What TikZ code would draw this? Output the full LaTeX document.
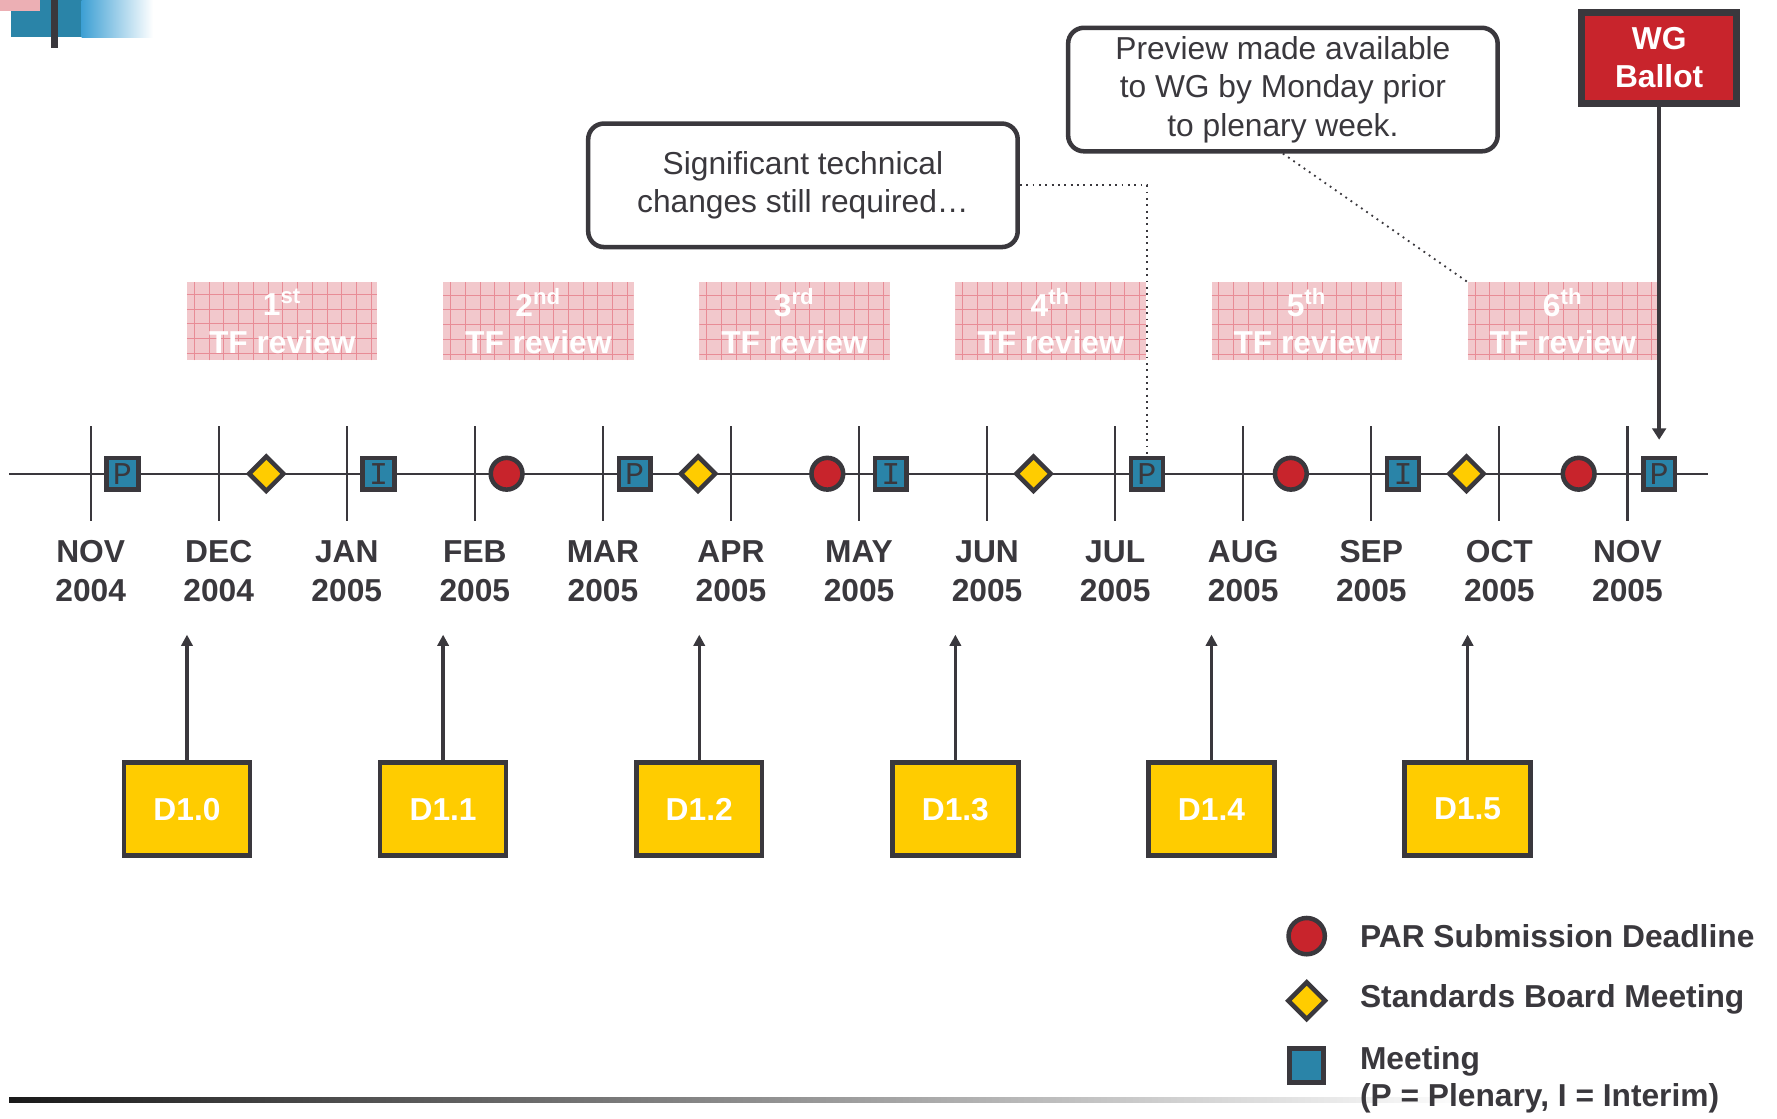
\documentclass[tikz,border=0pt]{standalone}
\usepackage{fontspec}
\setmainfont{Liberation Sans}
\newfontfamily\markfont{Liberation Mono}
\usetikzlibrary{shapes.geometric,arrows.meta}
\definecolor{ink}{RGB}{58,56,61}
\definecolor{meetblue}{RGB}{42,132,168}
\definecolor{fadeblue}{RGB}{62,160,212}
\definecolor{parred}{RGB}{200,36,44}
\definecolor{sbyellow}{RGB}{255,204,0}
\definecolor{tfpink}{RGB}{242,200,204}
\definecolor{tfgrid}{RGB}{232,140,150}
\begin{document}
\begin{tikzpicture}[x=0.5pt,y=-0.5pt,
    every node/.style={text=ink},
    month/.style={align=center,font=\fontsize{14}{17}\selectfont\bfseries},
    meet/.style={draw=ink,line width=2pt,fill=meetblue,minimum size=14pt,inner sep=0pt,
        font=\fontsize{14}{14}\selectfont\markfont},
    board/.style={diamond,draw=ink,line width=2pt,fill=sbyellow,minimum size=16pt,inner sep=0pt},
    par/.style={circle,draw=ink,line width=2pt,fill=parred,minimum size=14pt,inner sep=0pt},
    tfbox/.style={fill=tfpink,minimum width=84pt,minimum height=34.5pt,inner sep=0pt,
        align=center,text=white,font=\fontsize{14}{16.5}\selectfont\bfseries,
        path picture={\draw[tfgrid,line width=0.25pt,step=6.5pt]
            (path picture bounding box.south west) grid (path picture bounding box.north east);}},
    dbox/.style={draw=ink,line width=2pt,fill=sbyellow,minimum width=55.5pt,minimum height=41pt,
        text=white,font=\fontsize{14}{17}\selectfont\bfseries},
    callout/.style={draw=ink,line width=2pt,rounded corners=7pt,align=center,
        minimum width=189.5pt,minimum height=54.5pt,font=\fontsize{14}{17}\selectfont},
    wgbox/.style={draw=ink,line width=3pt,fill=parred,minimum width=68.5pt,minimum height=40pt,
        align=center,text=white,font=\fontsize{14}{17}\selectfont\bfseries},
    legend/.style={anchor=west,align=left,font=\fontsize{14}{16.5}\selectfont\bfseries},
    dlink/.style={ink,line width=1.5pt,-{Triangle[length=5pt,width=5pt]}},
    note/.style={ink,dotted,line width=0.8pt}]
    \fill[white] (0,0) rectangle (1568,987);
    \useasboundingbox (0,0) rectangle (1568,987);
    \fill[meetblue] (10,0) rectangle (72,33);
    \shade[left color=fadeblue,right color=white] (72,0) rectangle (135,33);
    \fill[tfpink!85!parred] (0,0) rectangle (35,10);
    \fill[ink] (45,0) rectangle (51,42);
    \shade[left color=black!90,right color=white] (8,968) rectangle (1300,973);

    \draw[ink,line width=1pt] (8,418) -- (1507,418);
    \foreach \m/\yr [count=\i from 0] in {NOV/2004,DEC/2004,JAN/2005,FEB/2005,MAR/2005,APR/2005,
        MAY/2005,JUN/2005,JUL/2005,AUG/2005,SEP/2005,OCT/2005,NOV/2005}{
        \draw[ink,line width=1pt] (80+113*\i,376) -- (80+113*\i,460);
        \node[month] (m\i) at (80+113*\i,504) {\m\\\yr};
    }
    \foreach \x/\s/\t [count=\k] in {108/meet/P,235/board/,334/meet/I,447/par/,560/meet/P,
        616/board/,730/par/,786/meet/I,912/board/,1012/meet/P,1139/par/,1238/meet/I,
        1294/board/,1393/par/,1464/meet/P}
        \node[\s] (k\k) at (\x,418) {\t};

    \foreach \n/\sx [count=\i from 0] in {1/st,2/nd,3/rd,4/th,5/th,6/th}
        \node[tfbox] (tf\n) at (249+226*\i,283.5) {\n\textsuperscript{\sx}\\TF review};

    \foreach \i in {0,...,5}{
        \node[dbox] (d\i) at (165+226*\i,714) {D1.\i};
        \coordinate (dt\i) at (165+226*\i,560);
        \draw[dlink] (d\i) -- (dt\i);
    }

    \node[callout] (sig) at (708.5,163.5) {Significant technical\\changes still required\dots};
    \node[callout] (prev) at (1132,79) {Preview made available\\to WG by Monday prior\\to plenary week.};
    \draw[note] (sig.east) -| (k10.north);
    \draw[note] (prev.south) -- (tf6.north west);

    \node[wgbox] (wg) at (1464,51) {WG\\Ballot};
    \draw[ink,line width=2pt,-{Triangle[length=5pt,width=6pt]},shorten >=7pt] (wg.south) -- (k15.north);

    \node[par,minimum size=16pt] (lpar) at (1153,826) {};
    \node[board,minimum size=17pt] (lboard) at (1153,883) {};
    \node[meet,minimum size=15pt] (lmeet) at (1153,940) {};
    \node[legend] (lt1) at (1193,826) {PAR Submission Deadline};
    \node[legend] (lt2) at (1193,882) {Standards Board Meeting};
    \node[legend] (lt3) at (1193,953) {Meeting\\(P = Plenary, I = Interim)};
\end{tikzpicture}
\end{document}
